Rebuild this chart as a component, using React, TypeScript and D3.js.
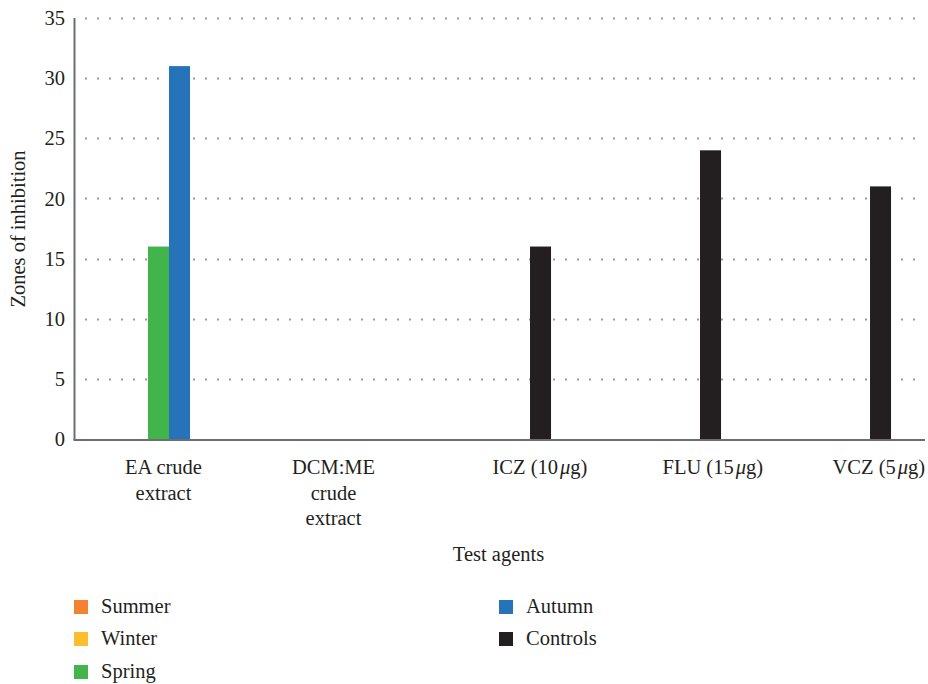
import React, { useEffect, useRef } from 'react';
import * as d3 from 'd3';

// Test agents on the x axis (each entry is the wrapped lines of the label)
const categoryLabels: string[][] = [
  ['EA crude', 'extract'],
  ['DCM:ME', 'crude', 'extract'],
  ['ICZ (10μg)'],
  ['FLU (15μg)'],
  ['VCZ (5μg)']
];

const seriesNames = ['Summer', 'Winter', 'Spring', 'Autumn', 'Controls'];
const seriesColors = ['#f58233', '#fdbe2c', '#41b54a', '#2773b9', '#231f20'];

// Zones of inhibition per test agent
const summerValues = [0, 0, 0, 0, 0];
const winterValues = [0, 0, 0, 0, 0];
const springValues = [16, 0, 0, 0, 0];
const autumnValues = [31, 0, 0, 0, 0];
const controlValues = [0, 0, 16, 24, 21];

const yTicks = [0, 5, 10, 15, 20, 25, 30, 35];

const App: React.FC = () => {
  const svgRef = useRef<SVGSVGElement>(null);

  useEffect(() => {
    document.body.style.margin = '0';
    const svg = d3.select(svgRef.current);
    svg.selectAll('*').remove();

    const width = 928;
    const height = 684;
    const margin = { top: 18, right: 4.5, bottom: 245, left: 73.5 };
    const fontSize = 20.5;
    const textColor = '#231f20';

    svg.attr('width', width).attr('height', height)
      .style('font-family', '"Liberation Serif", "DejaVu Serif", serif');

    const allSeries = [summerValues, winterValues, springValues, autumnValues, controlValues];
    const catKeys = categoryLabels.map(l => l.join(' '));

    const x0 = d3.scaleBand()
      .domain(catKeys)
      .range([margin.left, width - margin.right])
      .paddingInner(0.382)
      .paddingOuter(0.191);

    const x1 = d3.scaleBand()
      .domain(seriesNames)
      .range([0, x0.bandwidth()]);

    const y = d3.scaleLinear()
      .domain([0, 35])
      .range([height - margin.bottom, margin.top]);

    // Dotted gridlines
    svg.append('g')
      .selectAll('line')
      .data(yTicks.filter(t => t > 0))
      .enter()
      .append('line')
      .attr('x1', 85)
      .attr('x2', 918)
      .attr('y1', d => Math.round(y(d)) + 0.5)
      .attr('y2', d => Math.round(y(d)) + 0.5)
      .attr('stroke', '#9a9a9a')
      .attr('stroke-width', 2)
      .attr('stroke-dasharray', '2 10');

    // Bars
    allSeries.forEach((values, si) => {
      const g = svg.append('g');
      values.forEach((v, ci) => {
        if (v <= 0) return;
        g.append('rect')
          .attr('x', x0(catKeys[ci])! + x1(seriesNames[si])!)
          .attr('y', y(v))
          .attr('width', x1.bandwidth())
          .attr('height', y(0) - y(v))
          .attr('fill', seriesColors[si]);
      });
    });

    // Axis lines
    const axisColor = '#6d6e71';
    svg.append('line')
      .attr('x1', margin.left + 1).attr('x2', margin.left + 1)
      .attr('y1', y(35)).attr('y2', y(0) + 1)
      .attr('stroke', axisColor).attr('stroke-width', 2);
    svg.append('line')
      .attr('x1', margin.left).attr('x2', width - 3)
      .attr('y1', y(0) + 1).attr('y2', y(0) + 1)
      .attr('stroke', axisColor).attr('stroke-width', 2);

    // Y tick labels
    svg.append('g')
      .selectAll('text')
      .data(yTicks)
      .enter()
      .append('text')
      .attr('x', 65)
      .attr('y', d => y(d))
      .attr('dy', '0.35em')
      .attr('text-anchor', 'end')
      .attr('font-size', fontSize)
      .attr('fill', textColor)
      .text(d => d);

    // X category labels
    categoryLabels.forEach((lines, ci) => {
      const cx = x0(catKeys[ci])! + x0.bandwidth() / 2;
      const multi = lines.length > 1;
      const t = svg.append('text')
        .attr('font-size', fontSize)
        .attr('fill', textColor)
        .attr('text-anchor', multi ? 'middle' : 'start');
      lines.forEach((line, li) => {
        const ts = t.append('tspan')
          .attr('x', multi ? cx + 5 : cx - 6)
          .attr('y', 474 + li * 25.5);
        const mu = line.indexOf('μ');
        if (mu >= 0) {
          ts.append('tspan').text(line.slice(0, mu));
          ts.append('tspan').attr('font-style', 'italic').attr('dx', 2).text('μ');
          ts.append('tspan').text(line.slice(mu + 1));
        } else {
          ts.text(line);
        }
      });
    });

    // Axis titles
    svg.append('text')
      .attr('x', (margin.left + width - margin.right) / 2)
      .attr('y', 561)
      .attr('text-anchor', 'middle')
      .attr('font-size', fontSize)
      .attr('fill', textColor)
      .text('Test agents');

    svg.append('text')
      .attr('transform', 'translate(25, 229) rotate(-90)')
      .attr('text-anchor', 'middle')
      .attr('font-size', fontSize)
      .attr('fill', textColor)
      .text('Zones of inhibition');

    // Legend (two columns)
    const legendPos = [
      { x: 74, y: 600 },
      { x: 74, y: 632 },
      { x: 74, y: 665 },
      { x: 499, y: 600 },
      { x: 499, y: 632 }
    ];
    seriesNames.forEach((name, i) => {
      const p = legendPos[i];
      svg.append('rect')
        .attr('x', p.x).attr('y', p.y)
        .attr('width', 14).attr('height', 14)
        .attr('fill', seriesColors[i]);
      svg.append('text')
        .attr('x', p.x + 27)
        .attr('y', p.y + 6)
        .attr('dy', '0.35em')
        .attr('font-size', fontSize)
        .attr('fill', textColor)
        .text(name);
    });
  }, []);

  return <svg ref={svgRef}></svg>;
};

export default App;
